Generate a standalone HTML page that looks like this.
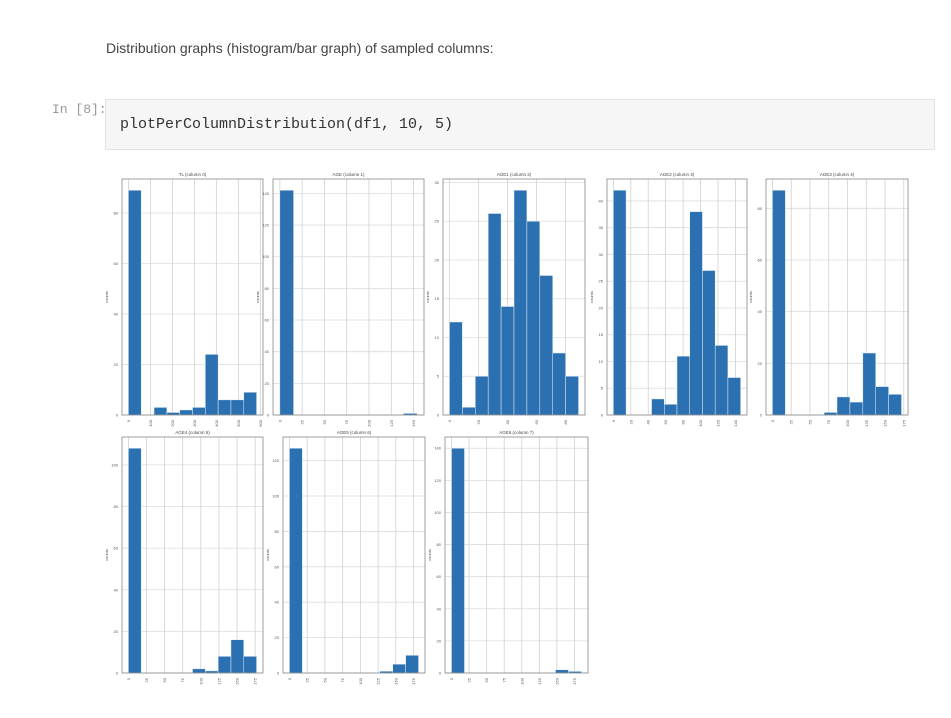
<!DOCTYPE html>
<html><head><meta charset="utf-8"><style>
html,body{margin:0;padding:0;background:#fff;width:951px;height:718px;overflow:hidden}
body{position:relative;font-family:"Liberation Sans",sans-serif}
.hdr{position:absolute;left:106px;top:40px;font-size:14px;color:#444}
.prompt{position:absolute;left:52px;top:102px;font-family:"Liberation Mono",monospace;font-size:13px;color:#999}
.cell{position:absolute;left:105px;top:99px;width:830px;height:51px;background:#f6f6f6;border:1px solid #e2e2e2;box-sizing:border-box}
.code{position:absolute;left:14px;top:16px;font-family:"Liberation Mono",monospace;font-size:15px;color:#333}
svg{position:absolute;left:0;top:0}
</style></head><body>
<div class="hdr">Distribution graphs (histogram/bar graph) of sampled columns:</div>
<div class="prompt">In [8]:</div>
<div class="cell"><div class="code">plotPerColumnDistribution(df1, 10, 5)</div></div>
<svg id="plots" width="951" height="718"></svg>
<script>
const titles = ["TL (column 0)","AGE (column 1)","AGE1 (column 2)","AGE2 (column 3)","AGE3 (column 4)","AGE4 (column 5)","AGE5 (column 6)","AGE6 (column 7)"];
const counts0 = [89,0,3,1,2,3,24,6,6,9];
const counts1 = [142,0,0,0,0,0,0,0,0,1];
const counts2 = [12,1,5,26,14,29,25,18,8,5];
const counts3 = [42,0,0,3,2,11,38,27,13,7];
const counts4 = [87,0,0,0,1,7,5,24,11,8];
const counts5 = [108,0,0,0,0,2,1,8,16,8];
const counts6 = [127,0,0,0,0,0,0,1,5,10];
const counts7 = [140,0,0,0,0,0,0,0,2,1];
const dataMax = [583,154,89,146,172,177,182,185];
const yTicks0 = [0,20,40,60,80];
const yTicks1 = [0,20,40,60,80,100,120,140];
const yTicks2 = [0,5,10,15,20,25,30];
const yTicks3 = [0,5,10,15,20,25,30,35,40];
const yTicks4 = [0,20,40,60,80];
const yTicks5 = [0,20,40,60,80,100];
const yTicks6 = [0,20,40,60,80,100,120];
const yTicks7 = [0,20,40,60,80,100,120,140];
const xTicks0 = [0,100,200,300,400,500,600];
const xTicks1 = [0,25,50,75,100,125,150];
const xTicks2 = [0,20,40,60,80];
const xTicks3 = [0,20,40,60,80,100,120,140];
const xTicks4 = [0,25,50,75,100,125,150,175];
const xTicks5 = [0,25,50,75,100,125,150,175];
const xTicks6 = [0,25,50,75,100,125,150,175];
const xTicks7 = [0,25,50,75,100,125,150,175];

const allCounts=[counts0,counts1,counts2,counts3,counts4,counts5,counts6,counts7];
const allY=[yTicks0,yTicks1,yTicks2,yTicks3,yTicks4,yTicks5,yTicks6,yTicks7];
const allX=[xTicks0,xTicks1,xTicks2,xTicks3,xTicks4,xTicks5,xTicks6,xTicks7];
const boxes=[[122,179,263,415],[273,179,424,415],[443,179,585,415],[607,179,747,415],[766,179,908,415],
             [122,437,263,673],[283,437,425,673],[445,437,588,673]];
const NS="http://www.w3.org/2000/svg";
const svg=document.getElementById('plots');
function mk(tag,attrs,parent){const e=document.createElementNS(NS,tag);for(const k in attrs)e.setAttribute(k,attrs[k]);(parent||svg).appendChild(e);return e;}
for(let p=0;p<8;p++){
  const [L,T,R,B]=boxes[p];const c=allCounts[p];const dmax=dataMax[p];
  const g=mk('g',{});
  
  
  const cmax=Math.max(...c);const ymax=cmax*1.05;
  const x0=-0.05*dmax,x1=dmax*1.05;
  const sx=v=>L+(v-x0)/(x1-x0)*(R-L);
  const sy=v=>B-v/ymax*(B-T);
  allY[p].forEach(v=>{const y=sy(v);if(y<T)return;
    const gl=mk('line',{x1:L,x2:R,y1:y,y2:y,stroke:'#dcdcdc','stroke-width':0.8},g);
    
    const t=mk('text',{x:L-4,y:y+1.5,'font-size':4,'text-anchor':'end',fill:'#555'},g);t.textContent=v;
    });
  allX[p].forEach(v=>{const x=sx(v);if(x>R)return;
    const gl=mk('line',{x1:x,x2:x,y1:T,y2:B,stroke:'#d0d0d0','stroke-width':0.8},g);
    
    const t=mk('text',{x:x+1.5,y:B+5,'font-size':4,'text-anchor':'end',fill:'#555',transform:`rotate(-90 ${x+1.5} ${B+5})`},g);t.textContent=v;
    });
  const bw=dmax/c.length;
  c.forEach((v,i)=>{if(v<=0)return;
    const xa=sx(i*bw),xb=sx((i+1)*bw);
    const r=mk('rect',{x:xa,y:sy(v),width:xb-xa,height:B-sy(v),fill:'#2b70b0',stroke:'#e8f0f8','stroke-width':0.5},g);
    });
  const fr=mk('rect',{x:L,y:T,width:R-L,height:B-T,fill:'none',stroke:'#888','stroke-width':0.8},g);
  
  const tt=mk('text',{x:(L+R)/2,y:T-3,'font-size':4.5,'text-anchor':'middle',fill:'#444'},g);tt.textContent=titles[p];
  
  const yl=mk('text',{x:L-14,y:(T+B)/2,'font-size':4,'text-anchor':'middle',fill:'#555',transform:`rotate(-90 ${L-14} ${(T+B)/2})`},g);yl.textContent='counts';
  
}
</script>
</body></html>
